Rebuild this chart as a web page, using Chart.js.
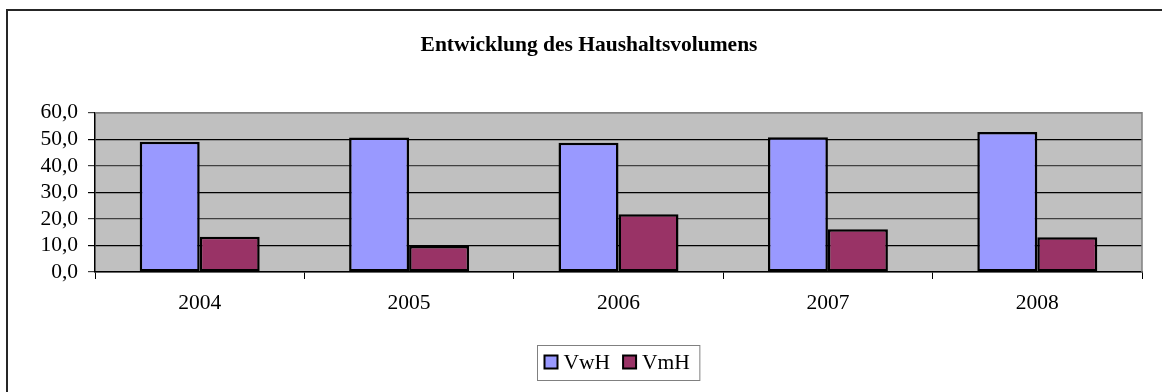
<!DOCTYPE html>
<html lang="de">
<head>
<meta charset="utf-8">
<title>Entwicklung des Haushaltsvolumens</title>
<script src="https://cdn.jsdelivr.net/npm/chart.js@4/dist/chart.umd.min.js"></script>
<style>
  html, body { margin: 0; padding: 0; background: #fff; }
  #wrap { width: 1162px; height: 392px; position: relative; }
</style>
</head>
<body>
<div id="wrap"><canvas id="haushalt-chart"></canvas></div>
<script>
const years = ['2004', '2005', '2006', '2007', '2008'];
const vwh = [49.1, 50.7, 48.7, 50.8, 52.8];
const vmh = [13.3, 9.8, 21.8, 16.1, 13.1];
const yTicks = [0, 10, 20, 30, 40, 50, 60];

const serif = "'Liberation Serif', 'Times New Roman', serif";
const fontSize = 21.5;

// frame around the whole chart (only top and left edges fall inside the canvas)
const frame = {
    id: 'frame',
    beforeDraw(chart) {
        const { ctx } = chart;
        ctx.save();
        ctx.strokeStyle = '#262626';
        ctx.lineWidth = 2;
        ctx.beginPath();
        ctx.moveTo(7, chart.height);
        ctx.lineTo(7, 10);
        ctx.lineTo(chart.width, 10);
        ctx.stroke();
        ctx.restore();
    },
};

// grey plot area with a thin border on top and right
const plotBg = {
    id: 'plotBg',
    beforeDraw(chart) {
        const { ctx, chartArea: a } = chart;
        ctx.save();
        ctx.fillStyle = '#c0c0c0';
        ctx.fillRect(a.left, a.top, a.right - a.left, a.bottom - a.top);
        ctx.restore();
    },
    afterDraw(chart) {
        const { ctx, chartArea: a } = chart;
        ctx.save();
        ctx.strokeStyle = '#808080';
        ctx.lineWidth = 1.5;
        ctx.beginPath();
        ctx.moveTo(a.left, a.top);
        ctx.lineTo(a.right, a.top);
        ctx.lineTo(a.right, a.bottom);
        ctx.stroke();
        ctx.restore();
    },
};

// boxed legend below the axis
const boxLegend = {
    id: 'boxLegend',
    afterDraw(chart) {
        const { ctx } = chart;
        const sets = chart.data.datasets;
        const cx = 618, cy = 362;
        const sq = 13, gapText = 6, gapItem = 13, padL = 7, padR = 10;
        ctx.save();
        ctx.font = `${fontSize}px ${serif}`;
        const widths = sets.map((d) => ctx.measureText(d.label).width);
        let total = padL + padR;
        widths.forEach((w, i) => {
            total += sq + gapText + w + (i < widths.length - 1 ? gapItem : 0);
        });
        const h = 35;
        const left = Math.round(cx - total / 2) + 0.5;
        const top = Math.round(cy - h / 2) + 0.5;
        ctx.strokeStyle = '#808080';
        ctx.lineWidth = 1;
        ctx.strokeRect(left, top, total, h);

        let x = left + padL;
        sets.forEach((d, i) => {
            ctx.fillStyle = d.backgroundColor;
            ctx.fillRect(x, cy - sq / 2, sq, sq);
            ctx.strokeStyle = '#000';
            ctx.lineWidth = 2;
            ctx.strokeRect(x, cy - sq / 2, sq, sq);
            ctx.fillStyle = '#000';
            ctx.textBaseline = 'middle';
            ctx.textAlign = 'left';
            ctx.fillText(d.label, x + sq + gapText, cy + 1);
            x += sq + gapText + widths[i] + gapItem;
        });
        ctx.restore();
    },
};

new Chart(document.getElementById('haushalt-chart'), {
    type: 'bar',
    data: {
        labels: years,
        datasets: [
            {
                label: 'VwH',
                data: vwh,
                backgroundColor: '#9999ff',
                borderColor: '#000',
                borderWidth: 2.5,
                borderSkipped: false,
                categoryPercentage: 0.573,
                barPercentage: 1.0,
            },
            {
                label: 'VmH',
                data: vmh,
                backgroundColor: '#993366',
                borderColor: '#000',
                borderWidth: 2.5,
                borderSkipped: false,
                categoryPercentage: 0.573,
                barPercentage: 1.0,
            },
        ],
    },
    options: {
        responsive: true,
        maintainAspectRatio: false,
        animation: false,
        layout: { padding: { left: 36, right: 20, top: 0, bottom: 0 } },
        plugins: {
            legend: { display: false },
            tooltip: { enabled: false },
            title: {
                display: true,
                text: 'Entwicklung des Haushaltsvolumens',
                color: '#000',
                font: { family: serif, size: fontSize, weight: 'bold' },
                padding: { top: 33, bottom: 54 },
            },
        },
        scales: {
            x: {
                grid: {
                    offset: true,
                    drawOnChartArea: false,
                    drawTicks: true,
                    tickLength: 7,
                    color: '#000',
                },
                border: { color: '#000', width: 1.5 },
                ticks: {
                    color: '#000',
                    padding: 11,
                    font: { family: serif, size: fontSize },
                },
                afterFit(scale) { scale.height = 120; },
            },
            y: {
                min: 0,
                max: 60,
                afterBuildTicks(scale) {
                    scale.ticks = yTicks.map((v) => ({ value: v }));
                },
                grid: {
                    color: (c) => (c.tick && c.tick.value % 20 === 0 ? '#404040' : '#000'),
                    tickLength: 7,
                    lineWidth: 1.2,
                },
                border: { color: '#000', width: 1.5 },
                ticks: {
                    autoSkip: false,
                    color: '#000',
                    padding: 10,
                    font: { family: serif, size: fontSize },
                    callback: (v) => Number(v).toFixed(1).replace('.', ','),
                },
                afterFit(scale) { scale.width = 59; },
            },
        },
    },
    plugins: [frame, plotBg, boxLegend],
});
</script>
</body>
</html>
